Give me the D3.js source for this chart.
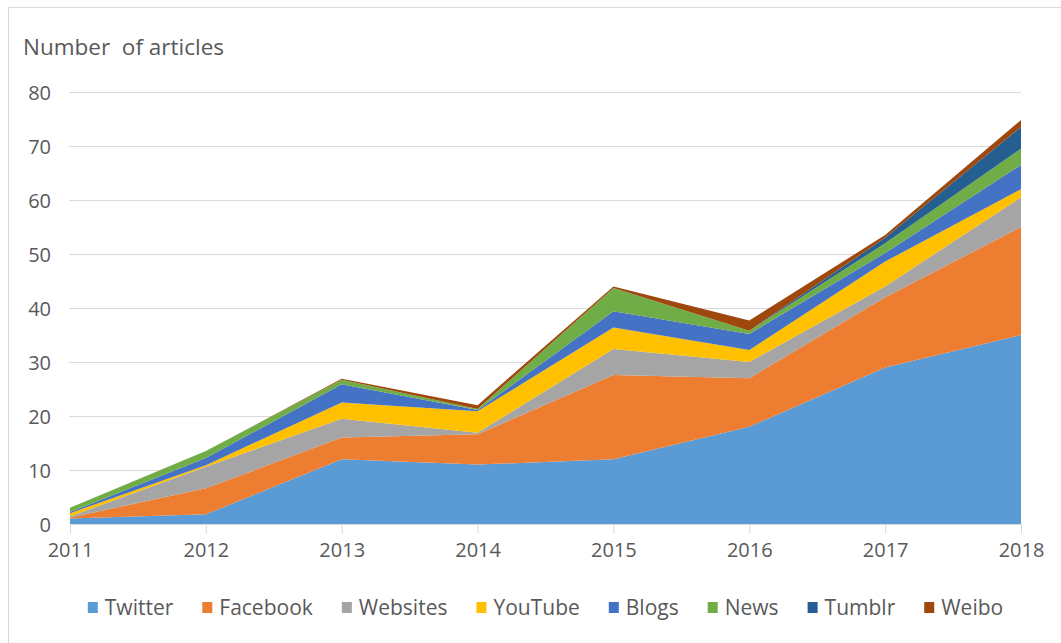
<!DOCTYPE html>
<html>
<head>
<meta charset="utf-8">
<script src="https://cdn.jsdelivr.net/npm/d3@7"></script>
<style>
  html, body { margin: 0; padding: 0; background: #fff; }
  svg { display: block; }
  text { font-family: "Open Sans", "Noto Sans", sans-serif; fill: #595959; }
</style>
</head>
<body>
<svg id="chart" width="1061" height="643"></svg>
<script>
const years = [2011, 2012, 2013, 2014, 2015, 2016, 2017, 2018];
const seriesNames = ["Twitter", "Facebook", "Websites", "YouTube", "Blogs", "News", "Tumblr", "Weibo"];
const twitter  = [1,   1.8, 12,  11,  12,   18,  29,  35];
const facebook = [0.2, 4.8, 4,   5.6, 15.6, 9,   13,  20];
const websites = [0.2, 4,   3.5, 0.3, 4.8,  3,   2,   5.5];
const youtube  = [0.6, 0.3, 3,   4,   4,    2.2, 4.6, 1.5];
const blogs    = [0.2, 1.3, 3.4, 0.2, 3,    3,   1.6, 4.5];
const news     = [0.8, 1.3, 0.8, 0.2, 4.3,  0.6, 1.8, 3];
const tumblr   = [0,   0,   0,   0,   0,    0,   1,   4];
const weibo    = [0,   0,   0.2, 0.7, 0.3,  1.9, 0.5, 1.3];
const yTicks = [0, 10, 20, 30, 40, 50, 60, 70, 80];
const colors = ["#5B9BD5", "#ED7D31", "#A5A5A5", "#FFC000", "#4472C4", "#70AD47", "#255E91", "#9E480E"];
const titleText = "Number  of articles";

const seriesValues = [twitter, facebook, websites, youtube, blogs, news, tumblr, weibo];
const table = years.map((yr, i) => {
  const row = { year: yr };
  seriesNames.forEach((n, k) => row[n] = seriesValues[k][i]);
  return row;
});

const svg = d3.select("#chart");
const plotLeft = 70, plotRight = 1021, plotTop = 92, plotBottom = 524;

const x = d3.scaleLinear().domain([2011, 2018]).range([plotLeft, plotRight]);
const y = d3.scaleLinear().domain([0, 80]).range([plotBottom, plotTop]);

// chart border (only top/left visible in the frame)
svg.append("rect")
  .attr("x", 8.5).attr("y", 7.5).attr("width", 1200).attr("height", 800)
  .attr("fill", "none").attr("stroke", "#D9D9D9").attr("stroke-width", 1);

// gridlines
svg.append("g").selectAll("line")
  .data(yTicks.filter(d => d > 0))
  .join("line")
  .attr("x1", plotLeft - 1).attr("x2", plotRight)
  .attr("y1", d => Math.round(y(d)) + 0.5).attr("y2", d => Math.round(y(d)) + 0.5)
  .attr("stroke", "#D9D9D9").attr("stroke-width", 1);

// stacked areas
const stack = d3.stack().keys(seriesNames).order(d3.stackOrderNone).offset(d3.stackOffsetNone);
const layers = stack(table);
const area = d3.area()
  .x(d => x(d.data.year))
  .y0(d => y(d[0]))
  .y1(d => y(d[1]))
  .curve(d3.curveLinear);

svg.append("g").selectAll("path")
  .data(layers)
  .join("path")
  .attr("d", area)
  .attr("fill", (d, i) => colors[i]);

// y axis labels
const yAxis = d3.axisLeft(y).tickValues(yTicks).tickSize(0).tickPadding(0);
const gy = svg.append("g").attr("transform", `translate(51,0)`).call(yAxis);
gy.select(".domain").remove();
gy.selectAll("text")
  .attr("font-family", '"Open Sans", "Noto Sans", sans-serif')
  .attr("font-size", 20).attr("fill", "#595959")
  .attr("dy", "0.35em");

// x axis
const xAxis = d3.axisBottom(x).tickValues(years).tickFormat(d3.format("d")).tickSize(9).tickPadding(9);
const gx = svg.append("g").attr("transform", `translate(0,${plotBottom + 0.5})`).call(xAxis);
gx.select(".domain").attr("stroke", "#D9D9D9").attr("d", `M${plotLeft},0H${plotRight}`);
gx.selectAll(".tick line").attr("stroke", "#D9D9D9");
gx.selectAll("text")
  .attr("font-family", '"Open Sans", "Noto Sans", sans-serif')
  .attr("font-size", 20).attr("fill", "#595959");

// title
svg.append("text")
  .attr("x", 23).attr("y", 55)
  .attr("font-size", 22.5)
  .style("white-space", "pre")
  .attr("xml:space", "preserve")
  .text(titleText);

// legend
const legend = svg.append("g");
const items = legend.selectAll("g").data(seriesNames).join("g");
items.append("rect")
  .attr("width", 10).attr("height", 11)
  .attr("y", 602)
  .attr("fill", (d, i) => colors[i]);
items.append("text")
  .attr("x", 17).attr("y", 615)
  .attr("font-size", 21)
  .text(d => d);
const gap = 29;
const widths = [];
items.each(function () {
  widths.push(17 + d3.select(this).select("text").node().getComputedTextLength());
});
const total = d3.sum(widths) + gap * (widths.length - 1);
let cx = (plotLeft + plotRight) / 2 - total / 2;
items.each(function (d, i) {
  d3.select(this).attr("transform", `translate(${cx},0)`);
  cx += widths[i] + gap;
});
</script>
</body>
</html>
